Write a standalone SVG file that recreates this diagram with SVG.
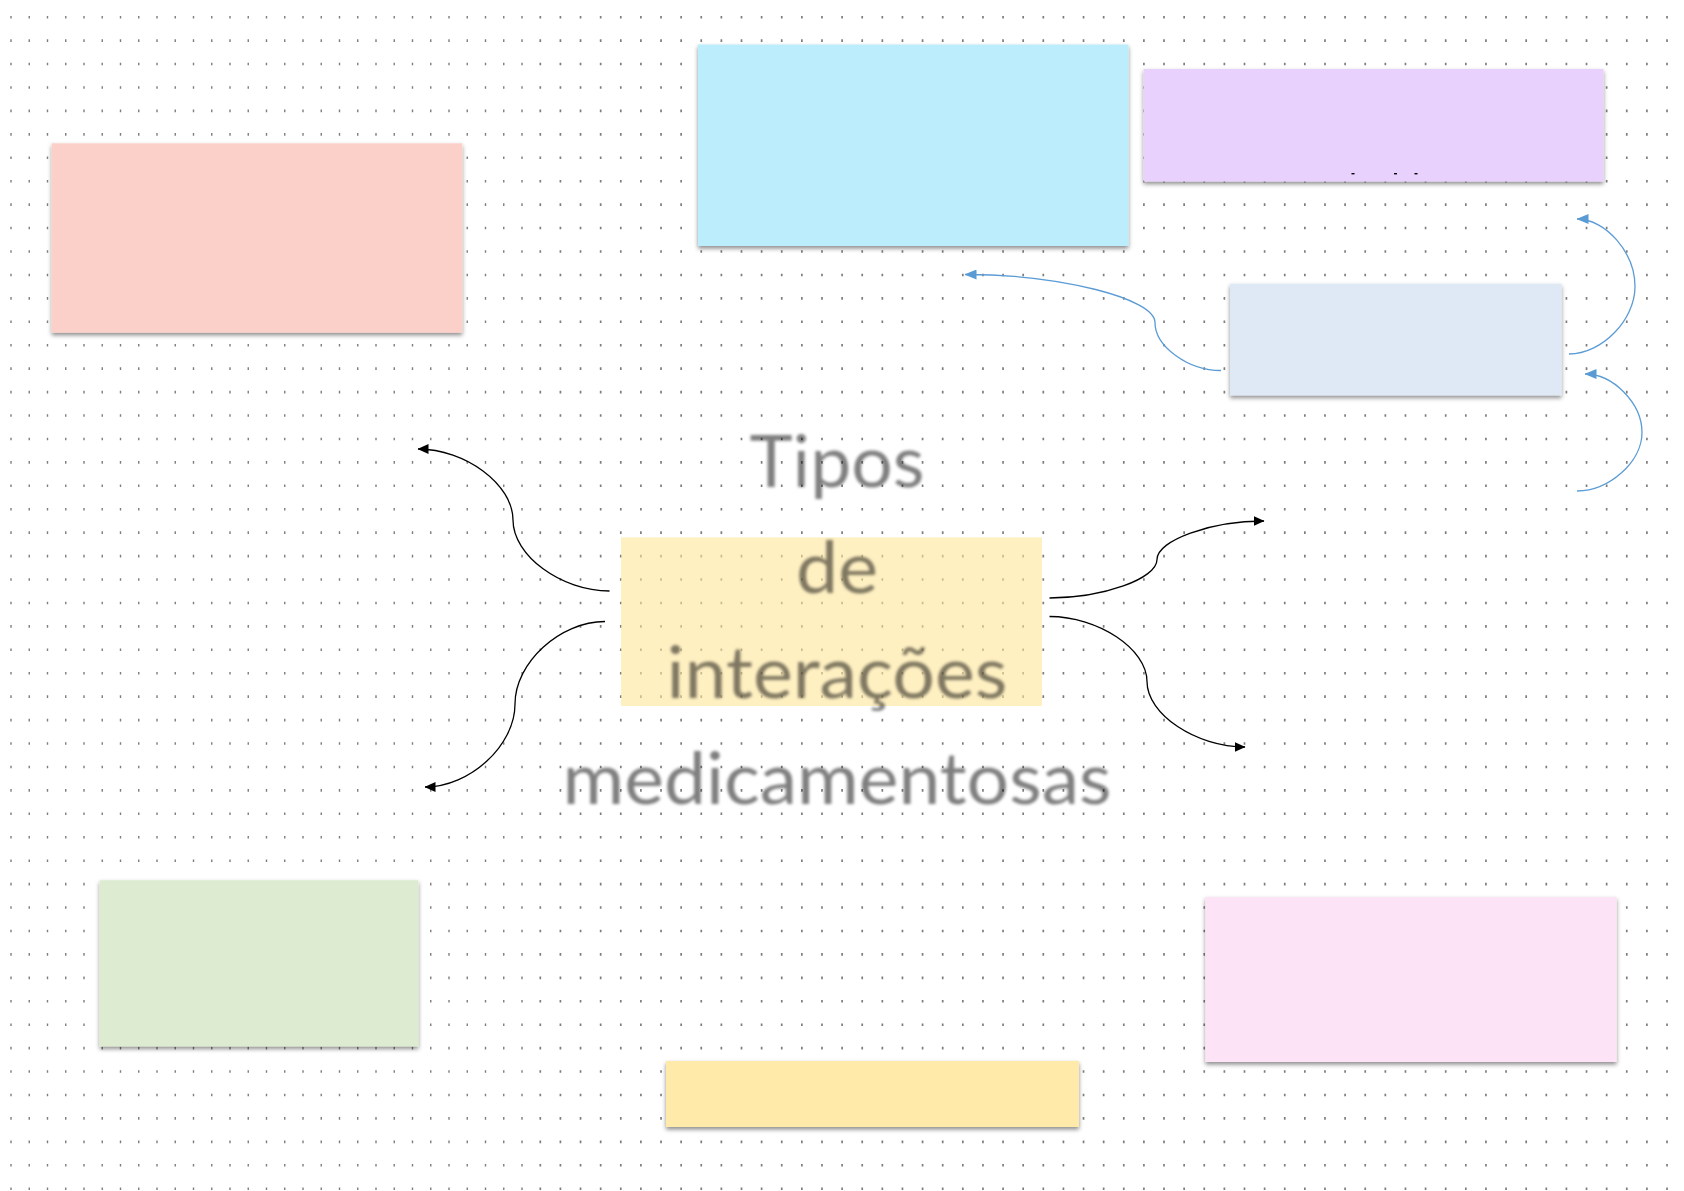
<svg xmlns="http://www.w3.org/2000/svg" width="1684" height="1191" viewBox="0 0 1684 1191">
<defs>
<style>
.grid{fill:none;stroke:#7d7d7d;stroke-dasharray:2.6 20.83;stroke-dashoffset:7.53}
.box{filter:url(#sh)}
.blk{fill:none;stroke:#000;stroke-width:1.3;marker-end:url(#ab)}
.blu{fill:none;stroke:#5B9BD5;stroke-width:1.3;marker-end:url(#au)}
.ttl{font-family:Lato,"Open Sans","Liberation Sans",sans-serif;font-size:72px;fill:#000;fill-opacity:0.5;text-anchor:middle;filter:url(#bl)}
</style>
<filter id="sh" x="-5%" y="-10%" width="110%" height="130%">
<feDropShadow dx="0" dy="2.5" stdDeviation="2" flood-color="#000" flood-opacity="0.45"/>
</filter>
<filter id="bl" x="-5%" y="-20%" width="110%" height="140%">
<feGaussianBlur stdDeviation="1.6"/>
</filter>
<marker id="ab" viewBox="0 0 11 10" refX="10.5" refY="5" markerWidth="11" markerHeight="10" markerUnits="userSpaceOnUse" orient="auto">
<path d="M0,0 L11,5 L0,10 z" fill="#000"/>
</marker>
<marker id="au" viewBox="0 0 12 10" refX="11.5" refY="5" markerWidth="12" markerHeight="10" markerUnits="userSpaceOnUse" orient="auto">
<path d="M0,0 L12,5 L0,10 z" fill="#5B9BD5"/>
</marker>
</defs>
<rect width="1684" height="1191" fill="#fff"/>
<g id="grid">
<path class="grid" stroke-width="1.4" d="M11 0V1191M29.25 0V1191M47.5 0V1191M65.75 0V1191M84 0V1191M102.25 0V1191M120.5 0V1191M138.75 0V1191M157 0V1191M175.25 0V1191M193.5 0V1191M211.75 0V1191M230 0V1191M248.25 0V1191M266.5 0V1191M284.75 0V1191M303 0V1191M321.25 0V1191M339.5 0V1191M357.75 0V1191M376 0V1191M394.25 0V1191M412.5 0V1191M430.75 0V1191M449 0V1191M467.25 0V1191M485.5 0V1191M503.75 0V1191M522 0V1191"/>
<path class="grid" stroke-width="1.7" d="M540.3 0V1191M560.42 0V1191M580.54 0V1191M600.66 0V1191M620.78 0V1191M640.9 0V1191M661.02 0V1191M681.14 0V1191M701.26 0V1191M721.38 0V1191M741.5 0V1191M761.62 0V1191M781.74 0V1191M801.86 0V1191M821.98 0V1191M842.1 0V1191M862.22 0V1191M882.34 0V1191M902.46 0V1191M922.58 0V1191M942.7 0V1191M962.82 0V1191M982.94 0V1191M1003.06 0V1191M1023.18 0V1191M1043.3 0V1191M1063.42 0V1191M1083.54 0V1191M1103.66 0V1191M1123.78 0V1191M1143.9 0V1191M1164.02 0V1191M1184.14 0V1191M1204.26 0V1191M1224.38 0V1191M1244.5 0V1191M1264.62 0V1191M1284.74 0V1191M1304.86 0V1191M1324.98 0V1191M1345.1 0V1191M1365.22 0V1191M1385.34 0V1191M1405.46 0V1191M1425.58 0V1191M1445.7 0V1191M1465.82 0V1191M1485.94 0V1191M1506.06 0V1191M1526.18 0V1191M1546.3 0V1191M1566.42 0V1191M1586.54 0V1191M1606.66 0V1191M1626.78 0V1191M1646.9 0V1191M1667.02 0V1191"/>
</g>
<g id="node-pink-top" class="box"><rect x="51.7" y="143.3" width="410.6" height="189.4" fill="#FBD0C9"/></g>
<g id="node-cyan" class="box"><rect x="698" y="44.5" width="430.5" height="201.5" fill="#BCEDFC"/></g>
<g id="node-purple" class="box"><rect x="1143.5" y="69" width="460" height="112.5" fill="#E9D1FD"/>
<rect x="1351.5" y="173" width="3" height="1.4" fill="#000"/><rect x="1394" y="173" width="3" height="1.4" fill="#000"/><rect x="1414.5" y="173" width="3" height="1.4" fill="#000"/></g>
<g id="node-steel" class="box"><rect x="1230" y="283.7" width="331.5" height="111.7" fill="#DEE9F5"/></g>
<g id="node-green" class="box"><rect x="99.6" y="880.3" width="318.8" height="166.1" fill="#DDEBD0"/></g>
<g id="node-yellow-bottom" class="box"><rect x="666" y="1061" width="413" height="66" fill="#FFEAAA"/></g>
<g id="node-pink-right" class="box"><rect x="1205.4" y="897" width="411.2" height="165" fill="#FCE4F6"/></g>
<g id="node-center">
<rect x="621" y="537.4" width="421" height="168.6" fill="#FFE699" fill-opacity="0.6"/>
<text class="ttl" x="837" y="487" textLength="175" lengthAdjust="spacingAndGlyphs">Tipos</text>
<text class="ttl" x="837" y="593" textLength="82" lengthAdjust="spacingAndGlyphs">de</text>
<text class="ttl" x="837" y="698" textLength="341" lengthAdjust="spacingAndGlyphs">interações</text>
<text class="ttl" x="837" y="804" textLength="549" lengthAdjust="spacingAndGlyphs">medicamentosas</text>
</g>
<g id="connectors">
<path class="blk" d="M609.5,591 C561,591 513,555.5 513,520 C513,484.5 465.5,449 418,449"/>
<path class="blk" d="M605,621.5 C560,621.5 515,662.5 515,704 C515,745.5 470,787 425,787"/>
<path class="blk" d="M1049.5,598 C1103,598 1157,578.75 1157,559.5 C1157,540.25 1210.5,521 1264,521"/>
<path class="blk" d="M1049.5,616.5 C1098,616.5 1147,648.75 1147,681.5 C1147,714.25 1196,747 1245,747"/>
<path class="blu" d="M1221,370.5 C1188,370.5 1155,346.5 1155,322.5 C1155,298.5 1060,274.5 965,274.5"/>
<path class="blu" d="M1569,354 C1602,354 1635,320 1635,286.5 C1635,253 1606,219 1577,219"/>
<path class="blu" d="M1577,491 C1609,491 1642,462 1642,432.5 C1642,403 1613,374 1585,374"/>
</g>
</svg>
